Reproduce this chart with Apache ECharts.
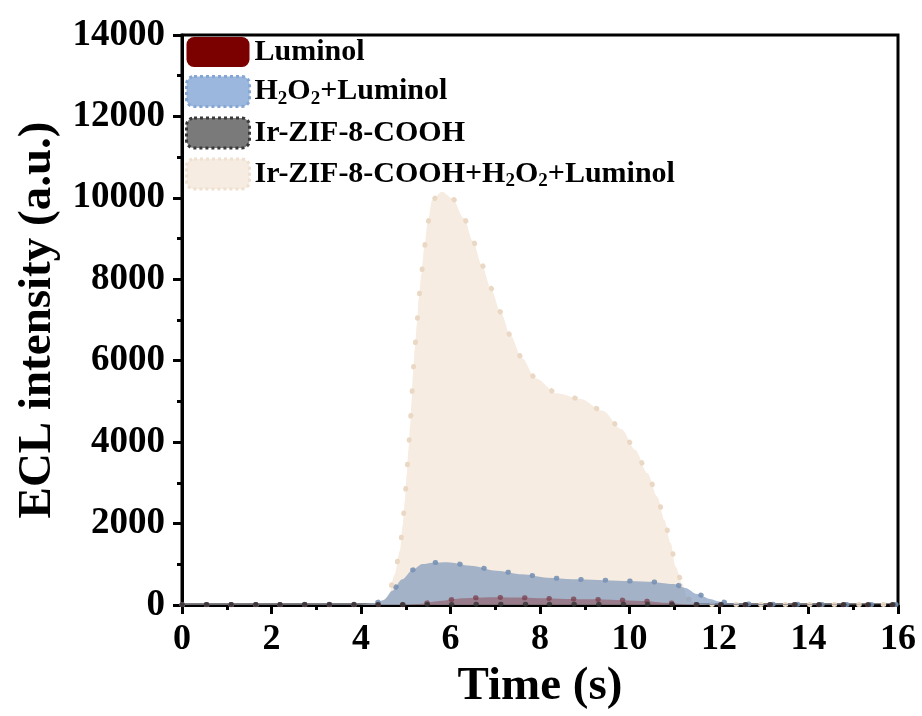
<!DOCTYPE html>
<html>
<head>
<meta charset="utf-8">
<script src="https://cdn.jsdelivr.net/npm/echarts@6/dist/echarts.min.js"></script>
<style>
  html, body { margin: 0; padding: 0; background: #fff; }
  #chart { width: 922px; height: 716px; }
</style>
</head>
<body>
<div id="chart"></div>
<script>
// ECL transients: time (s) and intensity (a.u.) for each sample
const seriesNames = ['Luminol', 'H2O2+Luminol', 'Ir-ZIF-8-COOH', 'Ir-ZIF-8-COOH+H2O2+Luminol'];

const luminolT = [0, 4, 5, 5.3, 5.74, 6.3, 6.86, 7.41, 8.01, 8.57, 9.13, 9.72, 10.28, 10.87, 11.3, 12, 16];
const luminolI = [5, 5, 8, 25, 98, 165, 189, 183, 165, 147, 140, 123, 98, 50, 15, 8, 8];

const h2o2LumT = [0, 2, 4, 4.3, 4.51, 4.7, 4.92, 5.15, 5.37, 5.6, 5.93, 6.45, 7.03, 7.6, 8.16, 8.73, 9.3, 9.87, 10.43, 10.99, 11.25, 11.51, 11.8, 12.03, 12.3, 13, 14, 16];
const h2o2LumI = [15, 15, 20, 40, 123, 350, 630, 860, 1007, 1040, 1050, 966, 843, 754, 671, 631, 614, 590, 572, 516, 420, 270, 150, 81, 30, 20, 15, 15];

const irZifT = [0, 2, 4, 6, 8, 10, 12, 14, 16];
const irZifI = [12, 10, 12, 15, 20, 18, 12, 10, 12];

const irZifAllT = [0, 2, 4, 4.4, 4.61, 4.75, 4.87, 4.93, 4.98, 5.02, 5.06, 5.10, 5.13, 5.16, 5.20, 5.25, 5.29, 5.35, 5.41, 5.49, 5.59, 5.81, 6.04, 6.3, 6.5, 6.7, 6.9, 7.12, 7.34, 7.6, 7.9, 8.38, 8.91, 9.4, 9.82, 10.13, 10.4, 10.62, 10.78, 10.92, 11.03, 11.18, 11.3, 11.5, 12, 14, 16];
const irZifAllI = [10, 10, 15, 40, 200, 740, 1330, 1940, 2560, 3170, 3800, 4420, 5000, 5650, 6270, 6900, 7520, 8130, 8750, 9380, 9950, 10150, 9990, 9500, 8940, 8350, 7780, 7200, 6620, 6060, 5570, 5200, 5060, 4770, 4320, 3810, 3240, 2660, 2090, 1520, 940, 530, 150, 30, 10, 10, 10];

const xTicks = { min: 0, max: 16, interval: 2 };
const yTicks = { min: 0, max: 14000, interval: 2000 };

const pairs = (t, v) => t.map((x, i) => [x, v[i]]);
const FONT = '"Liberation Serif", "Times New Roman", serif';

const dotted = (color) => ({ color: color, width: 5, type: [0.5, 24], cap: 'round' });

const chart = echarts.init(document.getElementById('chart'), null, { renderer: 'canvas' });

chart.setOption({
  backgroundColor: '#ffffff',
  animation: false,
  grid: { left: 182, right: 24, top: 35, bottom: 111, show: true, borderColor: '#000', borderWidth: 3, backgroundColor: 'transparent' },
  legend: {
    orient: 'vertical', left: 185, top: 37, padding: 0,
    itemWidth: 63, itemHeight: 30, itemGap: 8,
    textStyle: {
      fontFamily: FONT, fontWeight: 'bold', fontSize: 30, color: '#000',
      rich: {
        b: { fontFamily: FONT, fontWeight: 'bold', fontSize: 30, color: '#000' },
        s: { fontFamily: FONT, fontWeight: 'bold', fontSize: 19, color: '#000', padding: [15, 0, 0, 0] }
      }
    },
    formatter: (name) => '{b|' + name.replace(/O2/g, 'O}{s|2}{b|').replace(/H2/g, 'H}{s|2}{b|') + '}',
    data: [
      { name: seriesNames[0], icon: 'roundRect', itemStyle: { color: '#7b0000', borderWidth: 0 } },
      { name: seriesNames[1], icon: 'roundRect', itemStyle: { color: '#9bb7dd', borderColor: '#86a6d3', borderWidth: 3, borderType: 'dotted' } },
      { name: seriesNames[2], icon: 'roundRect', itemStyle: { color: '#7a7a7a', borderColor: '#3a3a3a', borderWidth: 3, borderType: 'dotted' } },
      { name: seriesNames[3], icon: 'roundRect', itemStyle: { color: '#f6ece1', borderColor: '#efe0cf', borderWidth: 3, borderType: 'dotted' } }
    ]
  },
  xAxis: {
    type: 'value', min: xTicks.min, max: xTicks.max, interval: xTicks.interval,
    name: 'Time (s)', nameLocation: 'middle', nameGap: 36,
    nameTextStyle: { fontFamily: FONT, fontWeight: 'bold', fontSize: 47, color: '#000' },
    axisLine: { show: true, onZero: false, lineStyle: { color: '#000', width: 3 } },
    axisTick: { show: true, inside: false, length: 9, lineStyle: { color: '#000', width: 3 } },
    minorTick: { show: true, splitNumber: 2, length: 5, lineStyle: { color: '#000', width: 3 } },
    axisLabel: { fontFamily: FONT, fontWeight: 'bold', fontSize: 36, color: '#000', margin: 17 },
    splitLine: { show: false }
  },
  yAxis: {
    type: 'value', min: yTicks.min, max: yTicks.max, interval: yTicks.interval,
    name: 'ECL intensity (a.u.)', nameLocation: 'middle', nameGap: 118,
    nameTextStyle: { fontFamily: FONT, fontWeight: 'bold', fontSize: 47, color: '#000' },
    axisLine: { show: true, lineStyle: { color: '#000', width: 3 } },
    axisTick: { show: true, inside: false, length: 9, lineStyle: { color: '#000', width: 3 } },
    minorTick: { show: true, splitNumber: 2, length: 5, lineStyle: { color: '#000', width: 3 } },
    axisLabel: { fontFamily: FONT, fontWeight: 'bold', fontSize: 37, color: '#000', margin: 17, formatter: (v) => String(v) },
    splitLine: { show: false }
  },
  series: [
    {
      name: seriesNames[3], type: 'line', data: pairs(irZifAllT, irZifAllI),
      smooth: 0.3, smoothMonotone: 'x', showSymbol: false, z: 1,
      lineStyle: dotted('#ead8c4'),
      areaStyle: { color: '#f6ece1', opacity: 1 }
    },
    {
      name: seriesNames[1], type: 'line', data: pairs(h2o2LumT, h2o2LumI),
      smooth: 0.3, smoothMonotone: 'x', showSymbol: false, z: 2,
      lineStyle: dotted('rgba(120,145,180,0.9)'),
      areaStyle: { color: 'rgba(118,145,185,0.64)', opacity: 1 }
    },
    {
      name: seriesNames[0], type: 'line', data: pairs(luminolT, luminolI),
      smooth: 0.3, smoothMonotone: 'x', showSymbol: false, z: 3,
      lineStyle: dotted('rgba(120,60,75,0.75)'),
      areaStyle: { color: 'rgba(128,0,0,0.3)', opacity: 1 }
    },
    {
      name: seriesNames[2], type: 'line', data: pairs(irZifT, irZifI),
      smooth: 0.3, showSymbol: false, z: 4,
      lineStyle: dotted('rgba(50,50,50,0.8)'),
      areaStyle: { color: 'rgba(90,90,90,0.5)', opacity: 1 }
    }
  ]
});
</script>
</body>
</html>
